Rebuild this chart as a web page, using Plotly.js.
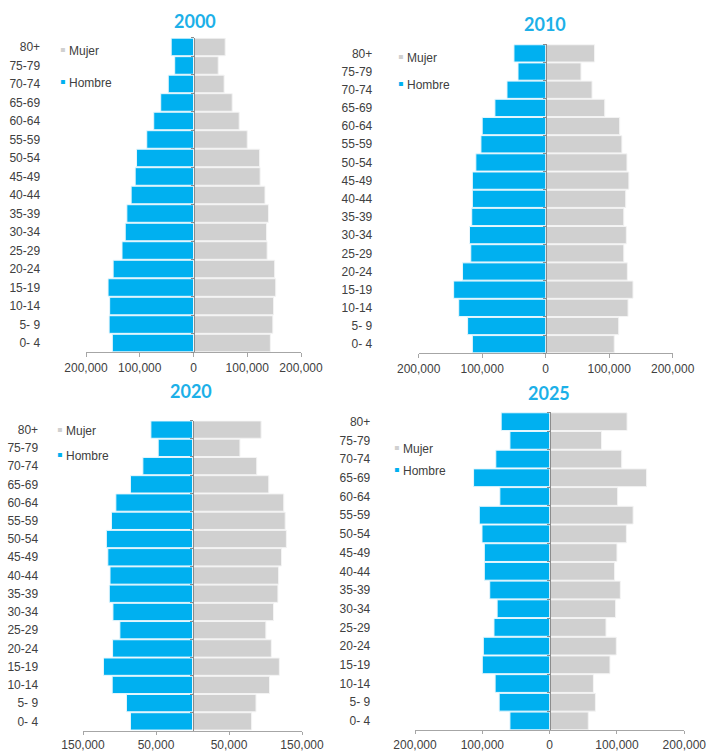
<!DOCTYPE html>
<html><head><meta charset="utf-8">
<script src="https://cdn.plot.ly/plotly-3.0.1.min.js"></script>
<style>html,body{margin:0;padding:0;background:#fff}#chart{width:707px;height:752px}</style>
</head><body><div id="chart"></div>
<script>
// Age groups, bottom (youngest) to top (oldest)
const ageGroups = ['0- 4','5- 9','10-14','15-19','20-24','25-29','30-34','35-39','40-44','45-49','50-54','55-59','60-64','65-69','70-74','75-79','80+'];
const years = ['2000','2010','2020','2025'];

const hombre2000 = [151000,157000,156000,159000,149500,133000,127000,124000,116000,108500,106000,87000,74000,61000,47000,35000,41500];
const mujer2000  = [143000,147600,149000,153000,151000,137000,136000,139500,133000,124000,123000,100000,85000,72000,57000,46000,59000];

const hombre2010 = [115500,123000,137000,145000,131000,118000,120000,116500,115500,115500,110000,102000,100000,80000,61000,43600,50000];
const mujer2010  = [108000,115000,129700,137500,128600,123000,127000,123000,126000,131000,128000,120000,116500,93000,73000,55600,77000];

const hombre2020 = [85000,90500,110000,122000,109500,99500,109000,114000,113000,116000,118000,111000,105000,85000,68000,47000,57000];
const mujer2020  = [81000,87000,105500,119000,108000,100500,111000,117000,118000,122000,128600,127000,125000,104500,88000,65000,94000];

const hombre2025 = [59000,75000,81000,100000,98500,82700,78000,89000,97000,97000,100500,104500,74000,113000,80000,59000,72000];
const mujer2025  = [57400,68000,65000,89600,99000,83700,98000,105000,96500,100000,114000,124000,101000,144000,107000,77000,115000];

const tickVals200 = [-200000,-100000,0,100000,200000];
const tickText200 = ['200,000','100,000','0','100,000','200,000'];
const tickVals150 = [-150000,-50000,50000,150000];
const tickText150 = ['150,000','50,000','50,000','150,000'];

const seriesNames = ['Mujer','Hombre'];
const colorMujer = '#d0d0d0';
const colorHombre = '#00b0f0';

const W = 707, H = 752;
const px = v => v / W;
const py = v => 1 - v / H;

// layout geometry per panel (pixels)
const panels = [
  {year: years[0], hombre: hombre2000, mujer: mujer2000, range: 200000, tv: tickVals200, tt: tickText200,
   x0: 86, x1: 301, yTop: 37.7, yBot: 352.3, labelRight: 40, title: [195, 21], leg: [59, 52, 83], tl: 4},
  {year: years[1], hombre: hombre2010, mujer: mujer2010, range: 200000, tv: tickVals200, tt: tickText200,
   x0: 418.7, x1: 672.7, yTop: 44.3, yBot: 353.3, labelRight: 372, title: [544.5, 24], leg: [397, 58, 86], tl: 4},
  {year: years[2], hombre: hombre2020, mujer: mujer2020, range: 150000, tv: tickVals150, tt: tickText150,
   x0: 83, x1: 302, yTop: 420.5, yBot: 730.5, labelRight: 38, title: [191, 391], leg: [56, 431, 457], tl: 3},
  {year: years[3], hombre: hombre2025, mujer: mujer2025, range: 200000, tv: tickVals200, tt: tickText200,
   x0: 415, x1: 684.3, yTop: 412.3, yBot: 730.3, labelRight: 370, title: [549, 392.5], leg: [393, 449, 471], tl: 3}
];

const font = 'Liberation Sans, Arial, sans-serif';
const txtColor = '#404040';
const data = [];
const layout = {
  width: W, height: H,
  margin: {l: 0, r: 0, t: 0, b: 0},
  paper_bgcolor: '#ffffff', plot_bgcolor: '#ffffff',
  barmode: 'relative', bargap: 0.05,
  showlegend: false,
  font: {family: font, size: 12, color: txtColor},
  annotations: []
};

panels.forEach((p, i) => {
  const n = i === 0 ? '' : String(i + 1);
  const xa = 'x' + n, ya = 'y' + n;
  data.push({
    type: 'bar', orientation: 'h', name: seriesNames[0],
    y: ageGroups, x: p.mujer, xaxis: xa, yaxis: ya,
    marker: {color: colorMujer, line: {color: '#f4f4f4', width: 1}},
    hovertemplate: '%{y}: %{x:,}<extra>Mujer ' + p.year + '</extra>'
  });
  data.push({
    type: 'bar', orientation: 'h', name: seriesNames[1],
    y: ageGroups, x: p.hombre.map(v => -v), customdata: p.hombre, xaxis: xa, yaxis: ya,
    marker: {color: colorHombre, line: {color: '#e8f7fd', width: 1}},
    hovertemplate: '%{y}: %{customdata:,}<extra>Hombre ' + p.year + '</extra>'
  });
  const zeroPx = (p.x0 + p.x1) / 2;
  layout['xaxis' + n] = {
    domain: [px(p.x0), px(p.x1)], anchor: ya,
    range: [-p.range, p.range], tickmode: 'array', tickvals: p.tv, ticktext: p.tt,
    showgrid: false, zeroline: false, showline: true, linecolor: '#a6a6a6', linewidth: 1,
    ticks: 'outside', ticklen: p.tl, tickcolor: '#a6a6a6', tickwidth: 1,
    tickfont: {family: font, size: 12, color: txtColor}, fixedrange: true
  };
  layout['yaxis' + n] = {
    domain: [py(p.yBot), py(p.yTop)], anchor: 'free', position: px(zeroPx),
    type: 'category', categoryorder: 'array', categoryarray: ageGroups,
    range: [-0.5, ageGroups.length - 0.5],
    showgrid: false, zeroline: false, showline: true, linecolor: '#8c8c8c', linewidth: 1.5,
    layer: 'above traces', ticks: 'outside', tickson: 'boundaries', ticklen: 3, tickcolor: '#8c8c8c',
    ticklabelstandoff: Math.round(zeroPx - p.labelRight - 3),
    tickfont: {family: font, size: 12, color: txtColor}, fixedrange: true
  };
  layout.annotations.push({
    xref: 'paper', yref: 'paper', x: px(p.title[0]), y: py(p.title[1]),
    xanchor: 'center', yanchor: 'middle', showarrow: false,
    text: '<b>' + p.year + '</b>',
    font: {family: 'Lato, Open Sans, sans-serif', size: 18, color: '#1cb0e8'}
  });
  [[seriesNames[0], colorMujer, p.leg[1]], [seriesNames[1], colorHombre, p.leg[2]]].forEach(([name, col, yy]) => {
    layout.annotations.push({
      xref: 'paper', yref: 'paper', x: px(p.leg[0] - 1), y: py(yy - 2),
      xanchor: 'left', yanchor: 'middle', showarrow: false,
      text: '<span style="color:' + col + ';font-size:16px">▪</span> ' + name,
      font: {family: font, size: 12, color: txtColor}
    });
  });
});

Plotly.newPlot('chart', data, layout, {displayModeBar: false, staticPlot: true});
</script>
</body></html>
